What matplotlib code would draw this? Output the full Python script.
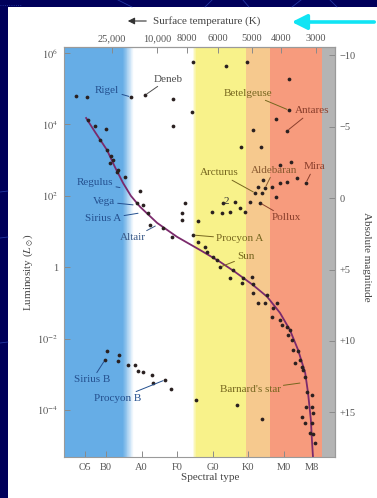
import numpy as np
import matplotlib.pyplot as plt
from matplotlib.patches import Rectangle, FancyArrowPatch
from matplotlib.lines import Line2D

plt.rcParams['font.family'] = ['Liberation Serif', 'DejaVu Sans']
plt.rcParams['mathtext.fontset'] = 'stix'

# spectral class as a number: B0=10, A0=20, F0=30, G0=40, K0=50, M0=60
spec_pos = [4.1, 10, 20, 30, 40, 50, 60, 68]
spec_lab = ['O5', 'B0', 'A0', 'F0', 'G0', 'K0', 'M0', 'M8']

temp_pos = [11.7, 24.4, 32.8, 41.5, 51.1, 59.4, 69.2]
temp_lab = ['25,000', '10,000', '8000', '6000', '5000', '4000', '3000']

lum_ticks = [6, 4, 2, 0, -2, -4]
lum_lab = [r'$10^6$', r'$10^4$', r'$10^2$', '1', r'$10^{-2}$', r'$10^{-4}$']
mag_ticks = [-10, -5, 0, 5, 10, 15]
mag_lab = ['\u221210', '\u22125', '0', '+5', '+10', '+15']

# giants and supergiants (spectral number, log10 L/Lsun)
giant_x = [34.5, 43.8, 49.7, 61.5, 1.5, 4.6, 17.0, 21.0, 28.9, 34.2, 28.9, 57.9,
           61.5, 61.0, 51.4, 48.0, 53.7, 10.0,
           59.0, 62.1, 66.3, 52.8, 54.2, 56.8, 59.0, 61.0, 63.8, 57.9, 54.8, 53.9,
           52.0, 50.6, 53.4, 47.7, 46.3, 43.0, 39.9, 42.7, 44.9, 49.2, 32.3, 31.4,
           31.4, 35.9, 19.6]
giant_l = [5.75, 5.64, 5.75, 5.27, 4.80, 4.77, 4.77, 4.82, 4.71, 4.35, 3.96, 4.15,
           4.40, 3.82, 3.84, 3.37, 3.37, 3.87,
           2.86, 2.95, 2.36, 2.25, 2.44, 2.25, 2.36, 2.39, 2.50, 1.97, 2.22, 2.08,
           2.08, 1.83, 1.80, 1.66, 1.83, 1.80, 1.55, 1.52, 1.55, 1.55, 1.80, 1.52,
           1.32, 1.29, 2.13]

# main sequence stars
ms_x = [4.9, 6.9, 8.3, 10.3, 11.4, 12.0, 11.1, 13.4, 13.1, 15.4, 18.7, 20.4, 21.8,
        22.4, 26.1, 28.6, 34.5, 35.9, 37.9, 38.5, 40.1, 41.3, 42.1, 45.8, 44.9,
        48.6, 48.3, 51.1, 51.4, 51.4, 52.8, 54.8, 55.4, 58.2, 57.0, 56.8, 59.0,
        59.6, 61.0, 61.8, 61.3, 62.4, 62.7, 64.1, 64.6, 63.2, 65.2, 65.5, 66.1,
        66.6, 68.0, 66.3, 68.0, 68.3, 65.2, 66.1, 68.0, 67.5, 68.3, 68.9]
ms_l = [4.12, 3.96, 3.56, 3.28, 3.11, 3.00, 2.92, 2.72, 2.67, 2.53, 1.80, 1.74, 1.52,
        1.18, 1.10, 0.85, 0.90, 0.71, 0.57, 0.43, 0.29, 0.20, 0.0, -0.08, -0.30,
        -0.30, -0.44, -0.27, -0.47, -0.72, -1.00, -1.00, -0.78, -1.00, -1.14, -1.39, -1.48,
        -1.62, -1.67, -1.76, -1.90, -2.04, -2.32, -2.35, -2.60, -2.68, -2.80, -2.88, -3.08,
        -3.50, -3.58, -3.92, -3.92, -4.08, -4.20, -4.36, -4.36, -4.64, -4.67, -4.92]

# white dwarfs
wd_x = [10.3, 9.7, 13.7, 13.4, 16.2, 18.2, 19.0, 20.4, 23.0, 23.2, 26.6, 28.3, 35.4, 46.9, 53.9]
wd_l = [-2.35, -2.60, -2.46, -2.63, -2.74, -2.74, -2.91, -2.94, -3.02, -3.24, -3.16, -3.41,
        -3.72, -3.86, -4.25]

# main sequence curve
curve_x = [4.4, 6.9, 10.3, 12.5, 14.8, 17.0, 19.6, 24.4, 30.0, 36.5, 42.1, 46.3, 51.4,
           55.4, 59.0, 61.8, 64.1, 66.1, 66.9, 67.7, 68.0, 68.3]
curve_l = [4.18, 3.79, 3.28, 2.81, 2.36, 2.00, 1.69, 1.24, 0.85, 0.48, 0.15, -0.13, -0.50,
           -0.83, -1.28, -1.76, -2.32, -2.96, -3.52, -4.28, -4.84, -5.32]

# named stars: label, label pos, star pos
names = ['Rigel', 'Deneb', 'Betelgeuse', 'Antares', 'Regulus', 'Vega', 'Sirius A', 'Altair',
         'Procyon A', 'Sun', 'Arcturus', 'Aldebaran', 'Mira', 'Pollux', 'Sirius B',
         'Procyon B', "Barnard's star"]
lab_x = [10.3, 27.5, 50.0, 68.0, 6.9, 9.4, 9.2, 17.6, 47.7, 49.4, 41.8, 57.3, 68.6, 60.7, 6.1, 13.4, 50.6]
lab_l = [4.96, 5.27, 4.88, 4.38, 2.36, 1.83, 1.35, 0.82, 0.79, 0.29, 2.64, 2.72, 2.81, 1.38, -3.16, -3.69, -3.44]
star_x = [17.0, 21.0, 61.5, 61.0, 14.5, 18.2, 19.6, 24.4, 34.5, 42.1, 52.0, 54.8, 66.3, 53.4, 9.7, 26.6, 65.2]
star_l = [4.77, 4.82, 4.40, 3.82, 2.22, 1.74, 1.52, 1.18, 0.90, 0.0, 2.08, 2.22, 2.36, 1.80, -2.60, -3.16, -3.24]

blue_t = '#24508f'
olive_t = '#76661e'
red_t = '#8a3f2c'
lab_col = [blue_t, '#505050', olive_t, red_t, blue_t, blue_t, blue_t, '#3a5a88',
           olive_t, olive_t, olive_t, '#8a5a30', red_t, red_t, blue_t, blue_t, olive_t]


fig = plt.figure(figsize=(3.77, 4.98), dpi=100, facecolor='#00005a')
W, H = 377.0, 498.0
fig.patches.append(Rectangle((8 / W, 0), 1, 1 - 7 / H, transform=fig.transFigure,
                             facecolor='white', edgecolor='none', zorder=-1))

# faint lines of the slide background
for (x0, y0), (x1, y1) in [((118, 0), (132, 7)), ((205, 7), (212, 0)), ((243, 0), (249, 7)),
                           ((292, 7), (301, 0)), ((330, 0), (337, 7)), ((0, 192), (8, 191)),
                           ((0, 238), (8, 237)), ((0, 343), (8, 342))]:
    fig.lines.append(Line2D([x0 / W, x1 / W], [1 - y0 / H, 1 - y1 / H], transform=fig.transFigure,
                            color='#3a5ad0', lw=0.6, alpha=0.6))
fig.lines.append(Line2D([0, 22 / W], [1 - 5 / H, 1 - 5 / H], transform=fig.transFigure,
                        color='#3a5ad0', lw=0.6, ls=':', alpha=0.7))

ax = fig.add_axes([64 / W, 1 - 457 / H, 271 / W, 410 / H])
x_lo, x_hi = -1.83, 74.5
ax.set_xlim(x_lo, x_hi)
ax.set_ylim(-5.32, 6.17)

# colour bands
blue = '#66ade6'
ax.axvspan(x_lo, 14.8, color=blue, lw=0, zorder=0)
n = 24
edges = np.linspace(14.8, 17.8, n + 1)
for i in range(n):
    ax.axvspan(edges[i], edges[i + 1], color=blue, alpha=1 - (i + 0.5) / n, lw=0, zorder=0)
edges = np.linspace(34.4, 35.4, 7)
for i in range(6):
    ax.axvspan(edges[i], edges[i + 1], color='#f8f28a', alpha=(i + 0.5) / 6, lw=0, zorder=0)
ax.axvspan(35.4, 49.3, color='#f8f28a', lw=0, zorder=0)
ax.axvspan(49.3, 56.2, color='#f6c98e', lw=0, zorder=0)
ax.axvspan(56.2, 70.9, color='#f79b7d', lw=0, zorder=0)
ax.axvspan(70.9, x_hi, color='#b4b4b4', lw=0, zorder=0)

ax.plot(curve_x, curve_l, color='#7b2a6c', lw=1.3, zorder=2)
dot = dict(ls='none', marker='o', ms=2.7, color='#2a2020', mec='none', zorder=3)
ax.plot(giant_x, giant_l, **dot)
ax.plot(ms_x, ms_l, **dot)
ax.plot(wd_x, wd_l, **dot)

for i in range(len(names)):
    ax.annotate(names[i], xy=(star_x[i], star_l[i]), xytext=(lab_x[i], lab_l[i]),
                ha='center', va='center', fontsize=8, color=lab_col[i], zorder=4,
                arrowprops=dict(arrowstyle='-', color=lab_col[i], lw=0.7,
                                shrinkA=0, shrinkB=1.5))
ax.text(44.0, 1.85, '2', ha='center', va='center', fontsize=8, color='#333333', zorder=4)

# axes and ticks
for s in ax.spines.values():
    s.set_color('#9a9a9a')
    s.set_linewidth(0.8)
ax.set_xticks(spec_pos, spec_lab)
ax.set_yticks(lum_ticks, lum_lab)
ax.tick_params(direction='in', length=4, width=0.7, color='#8a8a8a', labelsize=7.5,
               labelcolor='#555555', pad=4)

top = ax.secondary_xaxis('top')
top.set_xticks(temp_pos, temp_lab)
top.tick_params(direction='in', length=4, width=0.7, color='#8a8a8a', labelsize=7.5,
                labelcolor='#555555', pad=3)
top.spines['top'].set_color('#9a9a9a')

right = ax.secondary_yaxis('right', functions=(lambda l: 4.83 - 2.5 * l,
                                               lambda m: (4.83 - m) / 2.5))
right.set_yticks(mag_ticks, mag_lab)
right.tick_params(direction='in', length=4, width=0.7, color='#8a8a8a', labelsize=7.5,
                  labelcolor='#555555', pad=3)
right.spines['right'].set_color('#9a9a9a')

fig.text(28 / W, 1 - 272 / H, r'Luminosity ($L_\odot$)', rotation=90, ha='center', va='center',
         fontsize=8, color='#444444')
fig.text(367 / W, 1 - 257 / H, 'Absolute magnitude', rotation=270, ha='center', va='center',
         fontsize=8, color='#444444')
fig.text(210 / W, 1 - 477 / H, 'Spectral type', ha='center', va='center', fontsize=8,
         color='#444444')
fig.text(153 / W, 1 - 21 / H, 'Surface temperature (K)', ha='left', va='center', fontsize=8,
         color='#444444')
fig.patches.append(FancyArrowPatch((149 / W, 1 - 21 / H), (125 / W, 1 - 21 / H),
                                   transform=fig.transFigure, arrowstyle='-|>,head_length=4,head_width=2',
                                   color='#333333', lw=0.8))
# cyan pointer
fig.patches.append(FancyArrowPatch((1.0, 1 - 22 / H), (289 / W, 1 - 22 / H),
                                   transform=fig.transFigure,
                                   arrowstyle='-|>,head_length=9,head_width=4.5',
                                   color='#10e4f4', lw=2.6, mutation_scale=1))

fig.savefig('out.png', dpi=100, facecolor=fig.get_facecolor())
